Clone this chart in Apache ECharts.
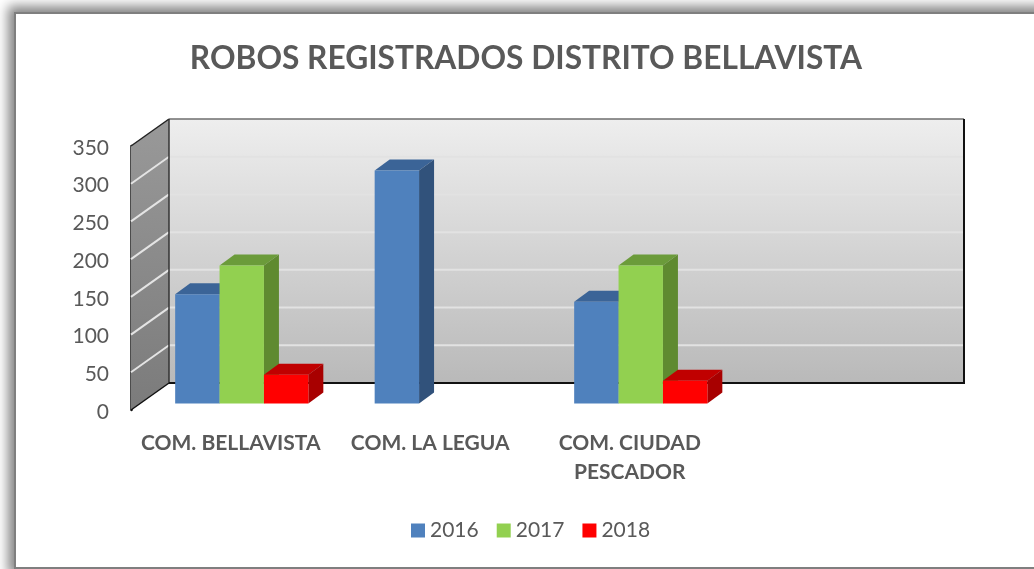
<!DOCTYPE html>
<html>
<head>
<meta charset="utf-8">
<style>
html,body{margin:0;padding:0;width:1034px;height:569px;overflow:hidden;background:#fff}
#frame{position:absolute;left:14px;top:12px;width:1100px;height:553px;border:2px solid #7f7f7f;box-shadow:0 0 11px 6px #858585;background:#fff}
#chart{position:absolute;left:0;top:0;width:1034px;height:569px}
</style>
<script src="https://cdn.jsdelivr.net/npm/echarts@6/dist/echarts.min.js"></script>
</head>
<body>
<div id="frame"></div>
<div id="chart"></div>
<script>
var titleText = 'ROBOS REGISTRADOS DISTRITO BELLAVISTA';
var categories = ['COM. BELLAVISTA', 'COM. LA LEGUA', 'COM. CIUDAD\nPESCADOR', ''];
var years = ['2016', '2017', '2018'];
var values2016 = [145, 309, 135, null];
var values2017 = [183, null, 183, null];
var values2018 = [38, null, 30, null];
var yTicks = [0, 50, 100, 150, 200, 250, 300, 350];

var seriesValues = [values2016, values2017, values2018];
var palette = [
  {front: '#4f81bd', top: '#3b6497', side: '#31527b'},
  {front: '#92d050', top: '#6b9b3a', side: '#5f8a30'},
  {front: '#ff0000', top: '#c00000', side: '#a80000'}
];
var DEPTH_X = 38, DEPTH_Y = -27;      // wall depth
var WALL_TRIM = 3;                    // back wall stops short of the last band
var BAR_DX = 11, BAR_DY = -6.5;       // bars stand slightly behind the front plane
var BAR_DEPTH_X = 15, BAR_DEPTH_Y = -11;
var BAR_RATIO = 0.2225;

function poly(points, fill) {
  return {type: 'polygon', shape: {points: points}, style: {fill: fill, stroke: null}};
}
function seg(a, b, color, w) {
  return {type: 'line', shape: {x1: a[0], y1: a[1], x2: b[0], y2: b[1]}, style: {stroke: color, lineWidth: w}};
}

function renderWalls(params, api) {
  var cs = params.coordSys;
  var left = cs.x, right = cs.x + cs.width, top = cs.y, bottom = cs.y + cs.height;
  var bl = left + DEPTH_X, br = right + DEPTH_X - WALL_TRIM, bt = top + DEPTH_Y, bb = bottom + DEPTH_Y;
  var kids = [];
  kids.push({type: 'rect', shape: {x: bl, y: bt, width: br - bl, height: bb - bt},
    style: {fill: new echarts.graphic.LinearGradient(0, 0, 0, 1, [
      {offset: 0, color: '#eeeeee'}, {offset: 1, color: '#b9b9b9'}])}});
  kids.push(poly([[left, top], [bl, bt], [bl, bb], [left, bottom]],
    new echarts.graphic.LinearGradient(0, 0, 0, 1, [
      {offset: 0, color: '#999999'}, {offset: 1, color: '#7b7b7b'}])));
  yTicks.forEach(function (t) {
    if (t === 0 || t === 350) return;
    var y = api.coord([0, t])[1];
    kids.push(seg([left, y], [bl, y + DEPTH_Y], '#e4e4e4', 2));
    kids.push(seg([bl, y + DEPTH_Y], [br, y + DEPTH_Y], '#e2e2e2', 2));
  });
  kids.push(seg([bl, bt], [br, bt], '#6e6e6e', 1.5));
  kids.push(seg([left, top], [bl, bt], '#222222', 1.5));
  kids.push(seg([left, bottom], [bl, bb], '#111111', 1.5));
  kids.push(seg([bl, bt], [bl, bb], '#333333', 1.5));
  kids.push(seg([bl, bb], [br, bb], '#111111', 2));
  kids.push(seg([br, bt], [br, bb + 1], '#111111', 2));
  return {type: 'group', children: kids};
}

function barRenderer(idx) {
  return function (params, api) {
    var v = api.value(1);
    if (v === null || isNaN(v)) return null;
    var c = palette[idx];
    var band = api.size([1, 0])[0];
    var w = band * BAR_RATIO;
    var p = api.coord([api.value(0), v]);
    var p0 = api.coord([api.value(0), 0]);
    var x0 = p[0] + BAR_DX + (idx - 1.5) * w;
    var x1 = x0 + w;
    var yT = p[1] + BAR_DY, yB = p0[1] + BAR_DY;
    var dx = BAR_DEPTH_X, dy = BAR_DEPTH_Y;
    return {type: 'group', children: [
      poly([[x0, yT], [x1, yT], [x1 + dx, yT + dy], [x0 + dx, yT + dy]], c.top),
      poly([[x1, yT], [x1 + dx, yT + dy], [x1 + dx, yB + dy], [x1, yB]], c.side),
      {type: 'rect', shape: {x: x0, y: yT, width: w, height: yB - yT}, style: {fill: c.front}}
    ]};
  };
}

var series = [{
  type: 'custom', name: 'walls', silent: true, z: 1, clip: false,
  renderItem: renderWalls, data: [[0, 0]], encode: {x: 0, y: 1}
}];
years.forEach(function (year, i) {
  series.push({
    type: 'custom', name: year, z: 2 + i, clip: false,
    renderItem: barRenderer(i),
    itemStyle: {color: palette[i].front},
    encode: {x: 0, y: 1},
    data: seriesValues[i].map(function (v, k) { return [k, v]; })
  });
});

var chart = echarts.init(document.getElementById('chart'), null, {renderer: 'canvas'});
chart.setOption({
  animation: false,
  backgroundColor: 'transparent',
  title: {
    text: titleText, left: 521, top: 38, textAlign: 'center',
    textStyle: {fontFamily: 'Lato', fontWeight: 'bold', fontSize: 31.7, color: '#595959'}
  },
  legend: {
    data: years, left: 406, top: 515, icon: 'rect', itemWidth: 14, itemHeight: 14, itemGap: 18,
    selectedMode: false,
    textStyle: {fontFamily: 'Lato', fontSize: 21, color: '#595959', padding: [0, 0, 0, 0]}
  },
  grid: {left: 131, top: 146, width: 798, height: 264, containLabel: false},
  xAxis: {
    type: 'category', data: categories,
    axisLine: {show: false}, axisTick: {show: false}, splitLine: {show: false},
    axisLabel: {interval: 0, margin: 19, lineHeight: 29, fontFamily: 'Lato', fontWeight: 'bold', fontSize: 21, color: '#595959', verticalAlign: 'top'}
  },
  yAxis: {
    type: 'value', min: 0, max: 350, interval: 50,
    axisLine: {show: true, lineStyle: {color: '#111111', width: 2.5}},
    axisTick: {show: false}, splitLine: {show: false},
    axisLabel: {margin: 22, fontFamily: 'Lato', fontSize: 21, color: '#595959', verticalAlign: 'top', lineHeight: 4}
  },
  series: series
});
</script>
</body>
</html>
